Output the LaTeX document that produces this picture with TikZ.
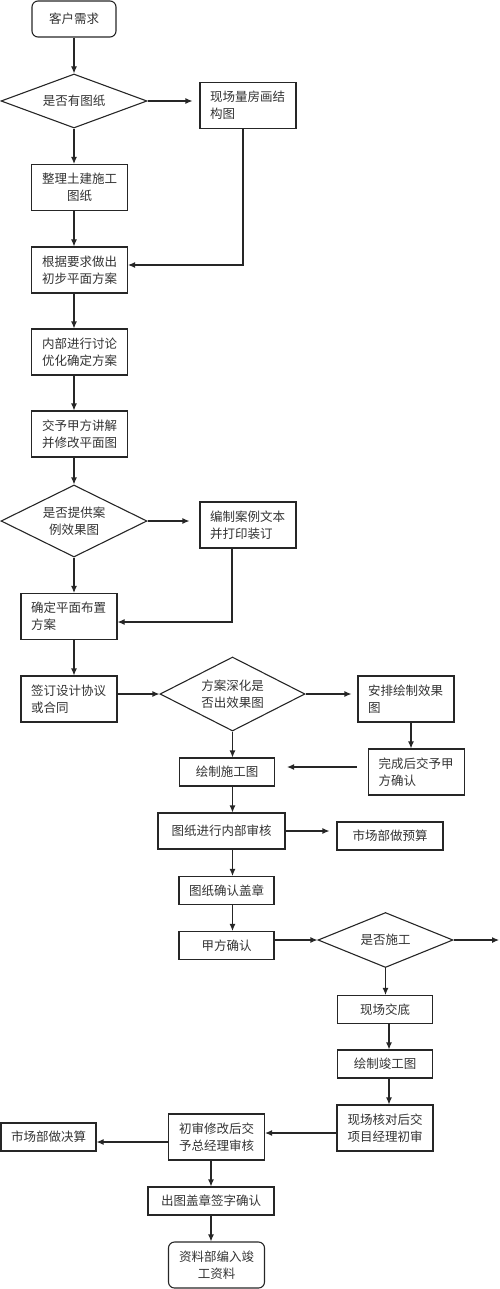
\documentclass[tikz,border=0pt]{standalone}
\usepackage{fontspec}
\newfontfamily\cjk{Noto Sans CJK SC}
\usetikzlibrary{shapes.geometric,arrows.meta}
\tikzstyle{box} = [draw=black!85, line width=1.1pt, rectangle, inner sep=0pt, text=black!80, font={\cjk\fontsize{12.5}{17}\selectfont}, align=center]
\tikzstyle{lbox} = [box, text width=76pt, align=left]
\tikzstyle{tall} = [minimum width=96pt, minimum height=46pt]
\tikzstyle{flat} = [minimum width=95pt, minimum height=28pt]
\tikzstyle{term} = [box, rounded corners=6pt]
\tikzstyle{ask} = [box, diamond, aspect=2]
\tikzstyle{flow} = [draw=black!85, line width=1.1pt, ->, >={Latex[length=7pt,width=6pt]}]

\begin{document}
\begin{tikzpicture}[x=1pt,y=-1pt]
        \useasboundingbox (0,0) rectangle (500,1289);
        \node[term,minimum width=84pt,minimum height=36pt](need) at (74,19){客户需求};
        \node[ask,minimum width=146pt,minimum height=54pt](hasdwg) at (74,101){是否有图纸};
        \node[lbox,tall](survey) at (248,105.5){现场量房画结\\构图};
        \node[box,tall](tidy) at (79.5,187.5){整理土建施工\\图纸};
        \node[box,tall](plan) at (79.5,270){根据要求做出\\初步平面方案};
        \node[box,tall](discuss) at (79.5,352){内部进行讨论\\优化确定方案};
        \node[box,tall](present) at (79.5,434){交予甲方讲解\\并修改平面图};
        \node[ask,minimum width=146pt,minimum height=72pt](hascase) at (74,521){是否提供案\\例效果图};
        \node[lbox,tall](casebook) at (248,525){编制案例文本\\并打印装订};
        \node[lbox,tall](layout) at (69,616.5){确定平面布置\\方案};
        \node[lbox,tall](sign) at (69,699){签订设计协议\\或合同};
        \node[ask,minimum width=145pt,minimum height=74pt](deepen) at (232.5,694){方案深化是\\否出效果图};
        \node[lbox,tall](render) at (406,699){安排绘制效果\\图};
        \node[lbox,tall](confirm) at (416.5,772){完成后交予甲\\方确认};
        \node[box,flat](drawing) at (227,772){绘制施工图};
        \node[box,minimum width=127pt,minimum height=36pt](review) at (221.5,831){图纸进行内部审核};
        \node[box,minimum width=106pt,minimum height=28pt](budget) at (390,836){市场部做预算};
        \node[box,flat](stamp) at (226.5,890.5){图纸确认盖章};
        \node[box,flat](client) at (226.5,945.5){甲方确认};
        \node[ask,minimum width=135pt,minimum height=55pt](build) at (385.5,940){是否施工};
        \coordinate(exit) at (499,940);
        \node[box,flat](handover) at (385,1009.5){现场交底};
        \node[box,flat](asbuilt) at (385,1064){绘制竣工图};
        \node[box,tall](check) at (385,1128){现场核对后交\\项目经理初审};
        \node[box,tall](gm) at (216.5,1137){初审修改后交\\予总经理审核};
        \node[box,flat](settle) at (48.5,1137){市场部做决算};
        \node[box,minimum width=126pt,minimum height=28pt](seal) at (211,1201){出图盖章签字确认};
        \node[term,tall](archive) at (216.5,1265){资料部编入竣\\工资料};
        % left column
        \draw[flow](need)--(hasdwg);
        \draw[flow](hasdwg.south)--(hasdwg.south |- tidy.north);
        \draw[flow](tidy.south -| hasdwg)--(plan.north -| hasdwg);
        \draw[flow](plan.south -| hasdwg)--(discuss.north -| hasdwg);
        \draw[flow](discuss.south -| hasdwg)--(present.north -| hasdwg);
        \draw[flow](present.south -| hasdwg)--(hascase.north);
        \draw[flow](hascase.south)--(hascase.south |- layout.north);
        \draw[flow](layout.south -| hascase)--(sign.north -| hascase);
        % side branches
        \draw[flow,shorten >=7pt](hasdwg.east)--(hasdwg.east -| survey.west);
        \draw[flow]([xshift=-5pt]survey.south)|-([yshift=5pt]plan.east);
        \draw[flow,shorten >=10pt](hascase.east)--(hascase.east -| casebook.west);
        \draw[flow]([xshift=-16pt]casebook.south)|-([yshift=-5.5pt]layout.east);
        \draw[flow]([yshift=5pt]sign.east)--(deepen.west);
        \draw[flow,shorten >=6pt](deepen.east)--(deepen.east -| render.west);
        \draw[flow]([xshift=5pt]render.south)--([xshift=5pt]render.south |- confirm.north);
        \draw[flow,shorten <=11pt,shorten >=12pt]([yshift=5pt]confirm.west)--([yshift=5pt]confirm.west -| drawing.east);
        % middle column
        \draw[flow](deepen.south)--(deepen.south |- drawing.north);
        \draw[flow](drawing.south -| deepen)--(review.north -| deepen);
        \draw[flow,shorten >=7pt](review.east)--(review.east -| budget.west);
        \draw[flow](review.south -| deepen)--(stamp.north -| deepen);
        \draw[flow](stamp.south -| deepen)--(client.north -| deepen);
        \draw[flow](client.east |- build)--(build.west);
        \draw[flow](build.east)--(exit);
        % right column and bottom
        \draw[flow](build.south)--(build.south |- handover.north);
        \draw[flow]([xshift=4pt]handover.south)--([xshift=4pt]asbuilt.north);
        \draw[flow]([xshift=4pt]asbuilt.south)--([xshift=4pt]check.north);
        \draw[flow]([yshift=-5pt]check.west)--([yshift=-5pt]check.west -| gm.east);
        \draw[flow]([yshift=-5pt]gm.west)--([yshift=-5pt]gm.west -| settle.east);
        \draw[flow](gm.south -| seal)--(seal.north);
        \draw[flow](seal.south)--(seal.south |- archive.north);
      \end{tikzpicture}
\end{document}
